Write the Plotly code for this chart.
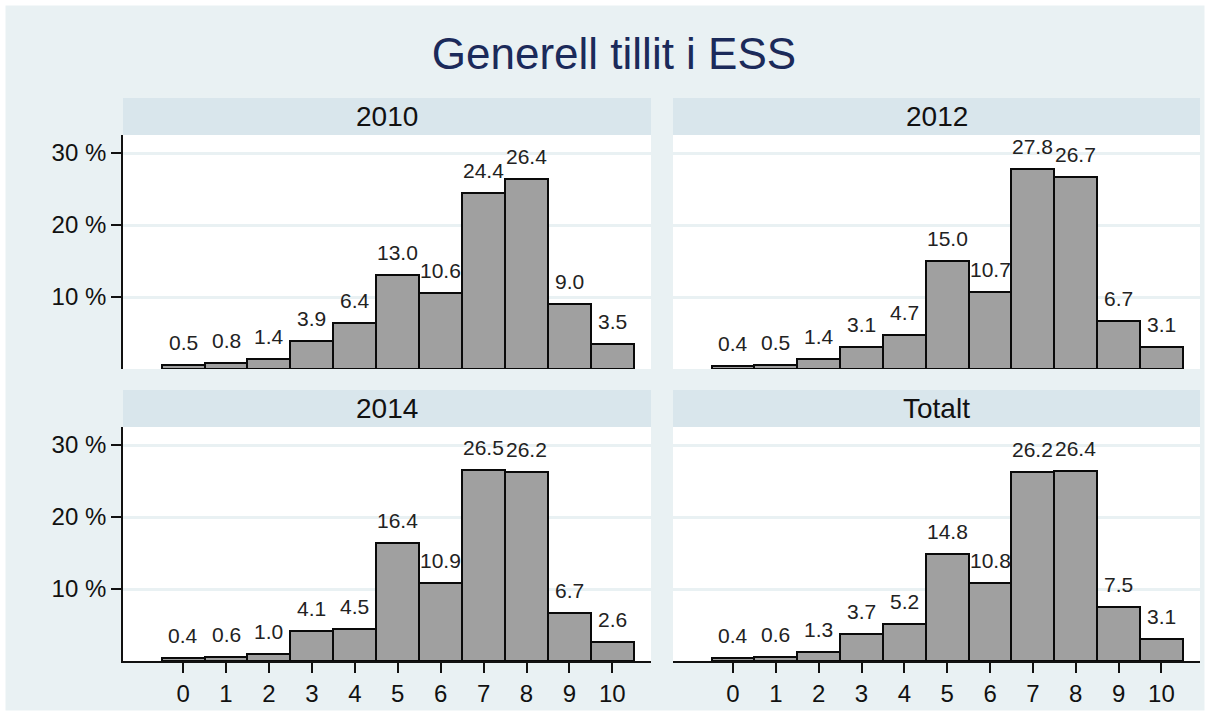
import plotly.graph_objects as go

categories = list(range(11))
panel_titles = ["2010", "2012", "2014", "Totalt"]
v2010 = [0.5, 0.8, 1.4, 3.9, 6.4, 13.0, 10.6, 24.4, 26.4, 9.0, 3.5]
v2012 = [0.4, 0.5, 1.4, 3.1, 4.7, 15.0, 10.7, 27.8, 26.7, 6.7, 3.1]
v2014 = [0.4, 0.6, 1.0, 4.1, 4.5, 16.4, 10.9, 26.5, 26.2, 6.7, 2.6]
vtot = [0.4, 0.6, 1.3, 3.7, 5.2, 14.8, 10.8, 26.2, 26.4, 7.5, 3.1]
y_ticks = [10, 20, 30]
title = "Generell tillit i ESS"

FONT = "Arial, Liberation Sans, sans-serif"
BG = "#e9f1f3"
STRIP = "#d9e6ec"
W, H = 1210, 716
ml, mr, mt, mb = 123, 10, 135, 55
pw = W - ml - mr
ph = H - mt - mb

def px_x(x):
    return (x - ml) / pw

def px_y(y):
    return (H - mb - y) / ph

xd = [[0, px_x(651)], [px_x(673), 1]]
yd = [[px_y(369), 1], [0, px_y(427)]]

fig = go.Figure()
series = [v2010, v2012, v2014, vtot]
for i, vals in enumerate(series):
    r, c = divmod(i, 2)
    n = "" if i == 0 else str(i + 1)
    fig.add_trace(go.Bar(
        x=categories, y=vals, width=1,
        marker=dict(color="#a0a0a0", line=dict(color="#0a0a0a", width=2)),
        xaxis="x" + n, yaxis="y" + n, showlegend=False, hoverinfo="skip",
    ))
    for k, v in zip(categories, vals):
        fig.add_annotation(x=k, y=v, xref="x" + n, yref="y" + n,
                           text=f"{v:.1f}", showarrow=False,
                           xanchor="center", yanchor="bottom", yshift=9,
                           font=dict(family=FONT, size=21, color="#222222"))
    fig.layout["xaxis" + n] = dict(
        domain=xd[c], range=[-1.4, 10.9], anchor="y" + n,
        tickvals=categories if r == 1 else [],
        ticktext=[str(k) for k in categories] if r == 1 else [],
        showticklabels=(r == 1),
        ticks="outside" if r == 1 else "", ticklen=10, tickwidth=1.5, tickcolor="#111",
        showline=(r == 1), linecolor="#111", linewidth=1.8,
        showgrid=False, zeroline=False,
        tickfont=dict(family=FONT, size=24, color="#111"),
    )
    fig.layout["yaxis" + n] = dict(
        domain=yd[r], range=[0, 32.5], anchor="x" + n,
        tickvals=y_ticks, ticktext=[f"{t} %" for t in y_ticks],
        showticklabels=(c == 0),
        ticks="outside" if c == 0 else "", ticklen=10, tickwidth=1.5, tickcolor="#111",
        showline=(c == 0), linecolor="#111", linewidth=1.8,
        showgrid=True, gridcolor=BG, gridwidth=2.5, zeroline=False,
        tickfont=dict(family=FONT, size=24, color="#111"),
    )
    # strip
    fig.add_shape(type="rect", xref="paper", yref="paper",
                  x0=xd[c][0], x1=xd[c][1], y0=yd[r][1], y1=yd[r][1] + 37 / ph,
                  fillcolor=STRIP, line=dict(width=0), layer="below")
    fig.add_annotation(xref="paper", yref="paper",
                       x=(xd[c][0] + xd[c][1]) / 2, y=yd[r][1] + 18.5 / ph,
                       text=panel_titles[i], showarrow=False,
                       font=dict(family=FONT, size=28, color="#111"),
                       xanchor="center", yanchor="middle")

# white outer border
fig.add_shape(type="rect", xref="paper", yref="paper",
              x0=-ml / pw, x1=1 + mr / pw, y0=-mb / ph, y1=1 + mt / ph,
              line=dict(color="white", width=11), fillcolor="rgba(0,0,0,0)", layer="above")

fig.update_layout(
    width=W, height=H,
    margin=dict(l=ml, r=mr, t=mt, b=mb),
    paper_bgcolor=BG, plot_bgcolor="white",
    bargap=0,
    title=dict(text=title, x=614 / W, xanchor="center", y=1 - 54 / H, yanchor="middle",
               yref="container", font=dict(family=FONT, size=44, color="#1b2a5a")),
)

fig.write_html("out.html", config={"displayModeBar": False},
               post_script="document.body.style.margin='0';document.body.style.overflow='hidden';")
